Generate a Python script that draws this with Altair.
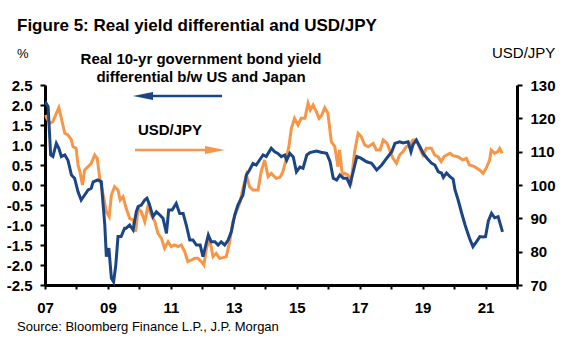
import altair as alt
import pandas as pd

# Real 10-yr yield differential US - Japan (%), left axis
diff_years = [
    2007.02, 2007.04, 2007.10, 2007.14, 2007.18, 2007.25, 2007.36, 2007.44, 2007.52, 2007.63,
    2007.73, 2007.84, 2007.94, 2008.05, 2008.15, 2008.26, 2008.37, 2008.47, 2008.53, 2008.68,
    2008.79, 2008.84, 2008.90, 2008.95, 2009.03, 2009.11, 2009.18, 2009.25, 2009.32, 2009.42,
    2009.53, 2009.58, 2009.69, 2009.80, 2009.90, 2009.96, 2010.06, 2010.17, 2010.24, 2010.31,
    2010.43, 2010.54, 2010.65, 2010.75, 2010.86, 2010.93, 2011.04, 2011.17, 2011.28, 2011.39,
    2011.49, 2011.60, 2011.70, 2011.81, 2011.93, 2012.02, 2012.08, 2012.19, 2012.28, 2012.40,
    2012.50, 2012.60, 2012.71, 2012.82, 2012.92, 2013.03, 2013.13, 2013.29, 2013.40, 2013.50,
    2013.61, 2013.71, 2013.82, 2013.93, 2014.03, 2014.19, 2014.30, 2014.40, 2014.51, 2014.62,
    2014.68, 2014.78, 2014.89, 2014.99, 2015.10, 2015.20, 2015.32, 2015.42, 2015.63, 2015.77,
    2015.95, 2016.06, 2016.16, 2016.27, 2016.37, 2016.48, 2016.59, 2016.69, 2016.80, 2016.91,
    2017.04, 2017.22, 2017.38, 2017.54, 2017.70, 2017.86, 2018.02, 2018.12, 2018.27, 2018.38,
    2018.54, 2018.63, 2018.69, 2018.80, 2018.92, 2019.02, 2019.14, 2019.29, 2019.39, 2019.50,
    2019.60, 2019.66, 2019.76, 2019.87, 2019.97, 2020.03, 2020.13, 2020.24, 2020.35, 2020.49,
    2020.60, 2020.71, 2020.82, 2020.92, 2021.00, 2021.09, 2021.19, 2021.29, 2021.40, 2021.54,
]
diff_values = [
    2.0, 2.04, 1.96, 1.35, 0.75, 0.71, 1.04, 0.92, 0.71, 0.75,
    0.62, 0.25, 0.17, -0.17, -0.375, -0.25, -0.125, -0.08, 0.08, 0.125,
    0.08, -0.42, -1.0, -1.79, -1.58, -2.33, -2.42, -2.0, -1.29, -1.29,
    -1.08, -1.08, -1.0, -1.125, -0.67, -0.54, -0.5, -0.375, -0.33, -0.46,
    -0.79, -0.67, -0.75, -0.83, -1.21, -0.625, -0.625, -0.46, -0.71, -0.71,
    -1.0, -1.375, -1.375, -1.5, -1.5, -1.79, -1.6, -1.25, -1.42, -1.42,
    -1.5, -1.42, -1.5, -1.375, -1.17, -0.75, -0.5, -0.25, 0.25, 0.375,
    0.54, 0.5, 0.625, 0.75, 0.71, 0.92, 0.83, 0.79, 0.71, 0.75,
    0.62, 0.79, 0.7, 0.33, 0.45, 0.42, 0.75, 0.81, 0.85, 0.82,
    0.79, 0.58, 0.17, 0.125, 0.25, 0.17, 0.17, 0.0, 0.35, 0.71,
    0.67, 0.58, 0.54, 0.375, 0.5, 0.67, 0.83, 1.04, 1.08, 1.05,
    1.08, 0.83, 1.0, 1.125, 0.95, 0.79, 0.67, 0.54, 0.5, 0.33,
    0.3, 0.19, 0.3, 0.21, 0.15, -0.125, -0.375, -0.7, -1.0, -1.33,
    -1.54, -1.42, -1.29, -1.3, -1.29, -0.9, -0.71, -0.82, -0.79, -1.17,
]

# USD/JPY, right axis
jpy_years = [
    2007.02, 2007.06, 2007.15, 2007.25, 2007.36, 2007.44, 2007.52, 2007.63, 2007.73, 2007.84,
    2007.89, 2007.99, 2008.05, 2008.12, 2008.19, 2008.26, 2008.37, 2008.47, 2008.58, 2008.66,
    2008.74, 2008.85, 2008.95, 2009.04, 2009.11, 2009.21, 2009.32, 2009.39, 2009.48, 2009.58,
    2009.69, 2009.80, 2009.88, 2009.96, 2010.06, 2010.17, 2010.27, 2010.38, 2010.49, 2010.59,
    2010.70, 2010.80, 2010.91, 2011.01, 2011.12, 2011.23, 2011.33, 2011.44, 2011.54, 2011.65,
    2011.76, 2011.86, 2011.97, 2012.05, 2012.13, 2012.23, 2012.34, 2012.44, 2012.55, 2012.66,
    2012.76, 2012.87, 2012.97, 2013.08, 2013.19, 2013.29, 2013.40, 2013.50, 2013.61, 2013.77,
    2013.87, 2013.98, 2014.09, 2014.19, 2014.35, 2014.47, 2014.56, 2014.67, 2014.75, 2014.83,
    2014.93, 2015.04, 2015.14, 2015.26, 2015.36, 2015.43, 2015.52, 2015.62, 2015.71, 2015.80,
    2015.89, 2015.99, 2016.10, 2016.21, 2016.31, 2016.36, 2016.45, 2016.53, 2016.63, 2016.73,
    2016.84, 2016.95, 2017.05, 2017.16, 2017.27, 2017.43, 2017.53, 2017.65, 2017.75, 2017.87,
    2017.95, 2018.06, 2018.17, 2018.27, 2018.38, 2018.48, 2018.60, 2018.69, 2018.80, 2018.91,
    2019.01, 2019.12, 2019.28, 2019.38, 2019.49, 2019.59, 2019.68, 2019.77, 2019.87, 2019.97,
    2020.12, 2020.28, 2020.39, 2020.49, 2020.65, 2020.81, 2020.92, 2021.02, 2021.13, 2021.18,
    2021.29, 2021.39, 2021.45, 2021.53,
]
jpy_values = [
    121, 120, 118.5, 119, 121.5, 123.2, 120, 115.5, 115, 113.5,
    111.5, 111, 106, 103.5, 100, 104.5, 105.5, 106.5, 109, 108,
    102, 97, 92, 90.5, 97, 99.5, 98.5, 95.5, 96.5, 93,
    90, 89.5, 86, 93, 92, 89, 93.5, 91, 89, 85.5,
    84, 81, 83, 81.5, 82, 81.5, 82, 80, 77, 77.5,
    78, 78, 77, 76, 81, 84, 78.5, 79.5, 78, 78.2,
    78.5, 83, 89, 92, 94.5, 99, 103, 99.5, 98.5, 98.5,
    104, 107.5, 102.5, 103.5, 102, 102.3, 104, 108, 111.5, 117,
    120, 118, 120, 120, 124.5, 122.5, 124, 122, 120, 121,
    123.2, 121.5, 113, 111.5, 105.5, 110.5, 103, 103.5, 103, 101,
    110, 115.5, 114.5, 112, 111.5, 112.5, 110.5, 110.5, 113.5, 112.5,
    110.5, 108, 106.5, 109, 110, 111.5, 112, 113.5, 113.5, 111,
    109, 111, 111, 109, 108.5, 107, 108.5, 109, 109.5, 108.8,
    108.5, 107.5, 108, 106, 105.5, 104.5, 103.5, 105, 107.5, 110.5,
    109.5, 110, 111, 109.5,
]

left_ticks = [-2.5, -2.0, -1.5, -1.0, -0.5, 0.0, 0.5, 1.0, 1.5, 2.0, 2.5]
right_ticks = [70, 80, 90, 100, 110, 120, 130]
year_ticks = list(range(2007, 2023))

TITLE = "Figure 5: Real yield differential and USD/JPY"
SOURCE = "Source: Bloomberg Finance L.P., J.P. Morgan"
ANNOT1 = "Real 10-yr government bond yield"
ANNOT2 = "differential b/w US and Japan"
ANNOT3 = "USD/JPY"

BLUE = "#1B4584"
ORANGE = "#F79646"
FONT = "Liberation Sans"

diff_df = pd.DataFrame({"year": diff_years, "diff": diff_values})
jpy_df = pd.DataFrame({"year": jpy_years, "jpy": jpy_values})
one = pd.DataFrame({"k": [0]})

x_enc = alt.X(
    "year:Q",
    scale=alt.Scale(domain=[2007, 2022], nice=False, zero=False),
    axis=alt.Axis(
        values=year_ticks,
        labelExpr="datum.value % 2 == 1 ? substring(toString(datum.value), 2, 4) : ''",
        title=None, tickSize=4, labelPadding=11, labelFlush=False, labelOverlap=False,
    ),
)

orange_line = alt.Chart(jpy_df).mark_line(color=ORANGE, strokeWidth=3).encode(
    x=x_enc,
    y=alt.Y(
        "jpy:Q",
        scale=alt.Scale(domain=[70, 130], nice=False, zero=False),
        axis=alt.Axis(orient="right", values=right_ticks, title=None, labelPadding=8),
    ),
)

blue_line = alt.Chart(diff_df).mark_line(color=BLUE, strokeWidth=3).encode(
    x=x_enc,
    y=alt.Y(
        "diff:Q",
        scale=alt.Scale(domain=[-2.5, 2.5], nice=False, zero=False),
        axis=alt.Axis(
            orient="left", values=left_ticks, title=None, labelPadding=8,
            labelExpr="(datum.value < 0 ? '-' : '') + format(abs(datum.value), '.1f')",
        ),
    ),
)


def label(text, x, y, size, weight="normal", align="left", color="black"):
    return alt.Chart(one).mark_text(
        text=text, font=FONT, fontSize=size, fontWeight=weight,
        align=align, baseline="alphabetic", color=color,
    ).encode(x=alt.value(x), y=alt.value(y))


def rule(x1, x2, y, color):
    return alt.Chart(one).mark_rule(color=color, strokeWidth=2.5).encode(
        x=alt.value(x1), x2=alt.value(x2), y=alt.value(y)
    )


def head(x, y, shape, color):
    return alt.Chart(one).mark_point(
        shape=shape, filled=True, size=400, color=color, opacity=1, strokeWidth=0
    ).encode(x=alt.value(x), y=alt.value(y))


texts = (
    label(TITLE, -28, -54.5, 17, "bold")
    + label("%", -28, -27, 13)
    + label("USD/JPY", 447, -27, 15)
    + label(ANNOT1, 156, -21, 15, "bold", "center")
    + label(ANNOT2, 156, -3, 15, "bold", "center")
    + label(ANNOT3, 125, 50, 15, "bold", "center")
    + label(SOURCE, -28, 246, 13)
    + rule(98, 177, 11, BLUE)
    + head(98, 11, "M-1,0L1,-0.4L1,0.4Z", BLUE)
    + rule(90, 170, 65, ORANGE)
    + head(170, 65, "M1,0L-1,-0.4L-1,0.4Z", ORANGE)
)

chart = (
    alt.layer(orange_line, blue_line, texts)
    .resolve_scale(y="independent")
    .properties(
        width=472, height=200,
        autosize=alt.AutoSizeParams(type="none"),
        padding={"left": 45, "top": 85, "right": 64, "bottom": 64},
        background="white",
    )
    .configure_view(stroke=None)
    .configure_axis(
        grid=False, domainColor="black", domainWidth=3, tickColor="black",
        tickWidth=2, tickSize=5, labelFont=FONT, labelFontSize=15,
        labelFontWeight="bold", labelColor="black",
    )
)

chart.save("out.html", embed_options={"renderer": "svg", "actions": False})
